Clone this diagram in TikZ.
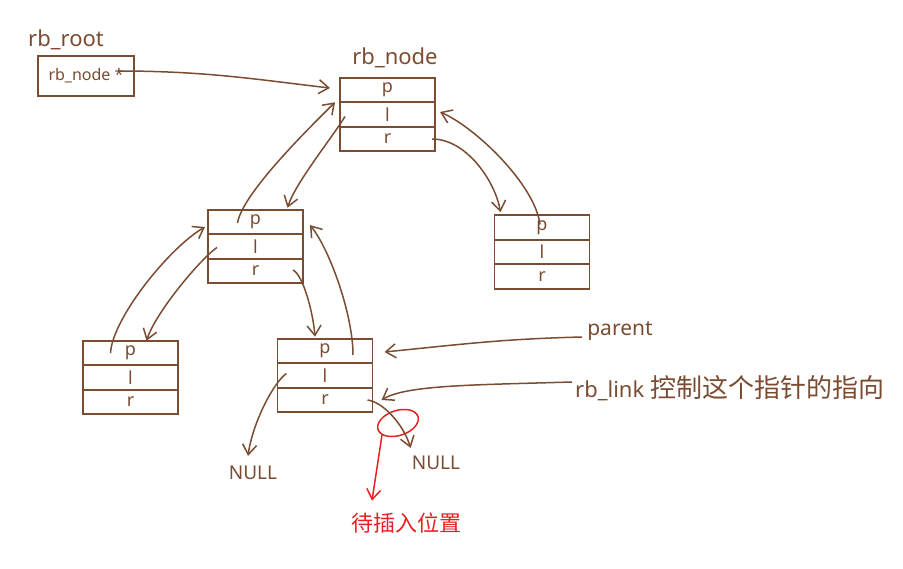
\documentclass[tikz,border=0pt]{standalone}
\usepackage{fontspec}
\setmainfont{Noto Sans}
\newfontfamily\cjk{Noto Sans CJK SC}
\usetikzlibrary{arrows.meta,calc,shapes.geometric}
\definecolor{ink}{RGB}{122,76,50}
\definecolor{redink}{RGB}{232,32,36}
\begin{document}
\begin{tikzpicture}[x=1pt,y=-1pt,
  row/.style={draw=ink,line width=1.6pt,minimum width=95pt,minimum height=24.5pt,inner sep=0pt,outer sep=0pt,text=ink,font=\fontsize{18}{18}\selectfont},
  lbl/.style={text=ink,inner sep=0pt,font=\fontsize{22}{22}\selectfont},
  nulltxt/.style={text=ink,inner sep=0pt,font=\fontsize{19}{19}\selectfont},
  arr/.style={draw=ink,line width=1.5pt,-{Straight Barb[length=10pt,width=14pt,line width=1.5pt]}},
  redarr/.style={draw=redink,line width=1.5pt,-{Straight Barb[length=10pt,width=14pt,line width=1.5pt]}},
]
\useasboundingbox (0,0) rectangle (903,569);
% labels
\node[lbl] (rootlbl) at (66,40) {rb\_root};
\node[draw=ink,line width=1.6pt,minimum width=96pt,minimum height=40pt,inner sep=0pt,text=ink,font=\fontsize{16}{16}\selectfont] (rootbox) at (86,76) {rb\_node *};
\node[lbl] (nodelbl) at (395,58) {rb\_node};
% node A (root)
\node[row] (Ap) at (387.5,90) {p};
\node[row] (Al) at (387.5,114.5) {l};
\node[row] (Ar) at (387.5,139) {r};
% node B
\node[row] (Bp) at (255.5,222) {p};
\node[row] (Bl) at (255.5,246.5) {l};
\node[row] (Br) at (255.5,271) {r};
% node C
\node[row] (Cp) at (542,227.5) {p};
\node[row] (Cl) at (542,252) {l};
\node[row] (Cr) at (542,276.5) {r};
% node D
\node[row] (Dp) at (130.5,353) {p};
\node[row] (Dl) at (130.5,377.5) {l};
\node[row] (Dr) at (130.5,402) {r};
% node E
\node[row] (Ep) at (325,351) {p};
\node[row] (El) at (325,375.5) {l};
\node[row] (Er) at (325,400) {r};
% NULLs
\node[nulltxt] (nullL) at (253,473) {NULL};
\node[nulltxt] (nullR) at (436,463) {NULL};
% side notes
\node[text=ink,inner sep=0pt,font=\fontsize{21}{21}\selectfont] (parent) at (620,331) {parent};
\node[text=ink,inner sep=0pt,anchor=west] (link) at (575,388) {\fontsize{22}{22}\selectfont rb\_link {\cjk\fontsize{26}{26}\selectfont 控制这个指针的指向}};
% red part
\node[draw=redink,line width=1.5pt,ellipse,minimum width=42pt,minimum height=25pt,inner sep=0pt,rotate=18] (hole) at (398,423) {};
\node[text=redink,inner sep=0pt,font=\cjk\fontsize{22}{22}\selectfont] (target) at (406,523) {待插入位置};
% connectors
\draw[arr] ($(rootbox.east)+(-17,-5)$) .. controls +(90,0) and +(-70,-8) .. ($(Ap.west)+(-10,-2)$);
\draw[arr] ($(Al.west)+(5,2)$) .. controls +(-12,20) and +(8,-25) .. ($(Bp.north)+(32,-2)$);
\draw[arr] ($(Bp.center)+(-18,1)$) .. controls +(5,-30) and +(-25,25) .. ($(Al.north west)+(-5,0)$);
\draw[arr] ($(Ar.east)+(-3,0)$) .. controls +(35,0) and +(-5,-30) .. ($(Cp.north west)+(6,-3)$);
\draw[arr] ($(Cp.center)+(-2,-3)$) .. controls +(-5,-40) and +(35,15) .. ($(Ap.east)+(5,22)$);
\draw[arr] ($(Bl.west)+(9,1)$) .. controls +(-15,10) and +(10,-30) .. ($(Dp.north)+(16,0)$);
\draw[arr] ($(Dp.center)+(-20,0)$) .. controls +(2,-35) and +(-35,20) .. ($(Bp.west)+(-3,5)$);
\draw[arr] ($(Br.east)+(-10,-1)$) .. controls +(10,5) and +(-2,-25) .. ($(Ep.north)+(-10,-2)$);
\draw[arr] ($(Ep.center)+(28,4)$) .. controls +(0,-40) and +(20,25) .. ($(Bp.east)+(7,3)$);
\draw[arr] ($(El.west)+(9,-2)$) .. controls +(-12,8) and +(5,-35) .. ($(nullL.north)+(-5,-10)$);
\draw[arr] ($(Er.east)+(-5,0)$) .. controls +(15,2) and +(-8,-25) .. ($(nullR.north west)+(-1,-8)$);
\draw[arr] ($(parent.west)+(-5,6)$) .. controls +(-80,2) and +(80,-8) .. ($(Ep.east)+(12,1)$);
\draw[arr] ($(link.west)+(-3,-6)$) .. controls +(-100,3) and +(25,-15) .. ($(Er.east)+(9,0)$);
\draw[redarr] ($(hole.center)+(-16,12)$) -- ($(target.north)+(-34,-12)$);
\end{tikzpicture}
\end{document}
